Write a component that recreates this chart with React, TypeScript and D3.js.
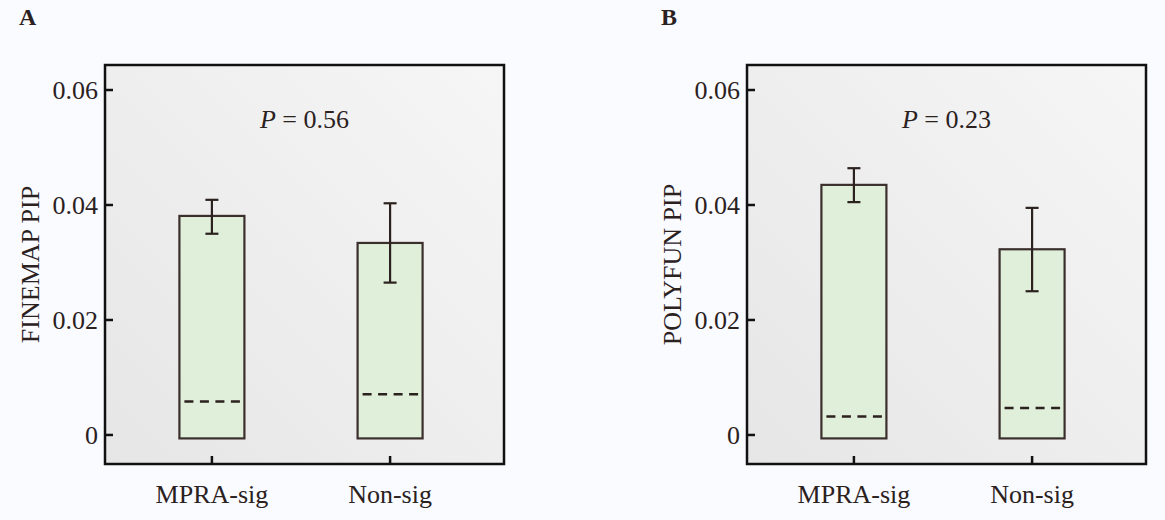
import * as d3 from "d3"

const categories = ["MPRA-sig", "Non-sig"]

const finemapMean = [0.0381, 0.0334]
const finemapLower = [0.035, 0.0265]
const finemapUpper = [0.0409, 0.0403]
const finemapMedian = [0.0058, 0.0071]

const polyfunMean = [0.0435, 0.0323]
const polyfunLower = [0.0405, 0.025]
const polyfunUpper = [0.0464, 0.0395]
const polyfunMedian = [0.0032, 0.0047]

const yTicks = [0, 0.02, 0.04, 0.06]
const yDomain = [-0.00505, 0.06435]
const barBase = -0.0006

const font = "'Liberation Serif', 'Times New Roman', serif"
const ink = "#2b211e"

interface PanelProps {
  letter: string
  yLabel: string
  pValue: string
  mean: number[]
  lower: number[]
  upper: number[]
  median: number[]
  offsetX: number
}

function Panel({ letter, yLabel, pValue, mean, lower, upper, median, offsetX }: PanelProps) {
  const left = 105
  const right = 504
  const top = 65
  const bottom = 464

  const x = d3.scalePoint<string>().domain(categories).range([left, 497]).padding(0.6)
  const y = d3.scaleLinear().domain(yDomain).range([bottom, top])
  const barW = 65
  const capW = 13

  return (
    <g transform={`translate(${offsetX},0)`} fontFamily={font} fill={ink}>
      <text x={19} y={25} fontSize={24} fontWeight="bold">{letter}</text>

      <rect x={left} y={top} width={right - left} height={bottom - top} fill="url(#bgGrad)" />

      {categories.map((c, i) => {
        const cx = x(c) || 0
        return (
          <g key={c}>
            <rect
              x={cx - barW / 2}
              y={y(mean[i])}
              width={barW}
              height={y(barBase) - y(mean[i])}
              fill="#e0efd9"
              stroke="#3a2f2c"
              strokeWidth={2.2}
            />
            <line
              x1={cx - barW / 2 + 5}
              x2={cx + barW / 2 - 4}
              y1={y(median[i])}
              y2={y(median[i])}
              stroke={ink}
              strokeWidth={2.5}
              strokeDasharray="9 6.5"
            />
            <line x1={cx} x2={cx} y1={y(upper[i])} y2={y(lower[i])} stroke={ink} strokeWidth={2.2} />
            <line x1={cx - capW / 2} x2={cx + capW / 2} y1={y(upper[i])} y2={y(upper[i])} stroke={ink} strokeWidth={2.2} />
            <line x1={cx - capW / 2} x2={cx + capW / 2} y1={y(lower[i])} y2={y(lower[i])} stroke={ink} strokeWidth={2.2} />
            <line x1={cx} x2={cx} y1={bottom} y2={bottom - 8} stroke="#111" strokeWidth={2.5} />
            <text x={cx} y={503} fontSize={26} textAnchor="middle">{c}</text>
          </g>
        )
      })}

      {yTicks.map((t) => (
        <g key={t}>
          <line x1={left} x2={left + 8} y1={y(t)} y2={y(t)} stroke="#111" strokeWidth={2.5} />
          <text x={left - 7} y={y(t)} dy="0.35em" fontSize={26} textAnchor="end">
            {t === 0 ? "0" : t.toFixed(2)}
          </text>
        </g>
      ))}

      <rect
        x={left}
        y={top}
        width={right - left}
        height={bottom - top}
        fill="none"
        stroke="#111"
        strokeWidth={2.5}
      />

      <text x={(left + right) / 2} y={128} fontSize={26} textAnchor="middle">
        <tspan fontStyle="italic">P</tspan> = {pValue}
      </text>

      <text
        transform={`translate(39,${(top + bottom) / 2}) rotate(-90)`}
        fontSize={26}
        textAnchor="middle"
      >
        {yLabel}
      </text>
    </g>
  )
}

export default function App() {
  return (
    <svg
      width={1165}
      height={520}
      style={{ position: "absolute", left: 0, top: 0, background: "#f9fbfe" }}
    >
      <defs>
        <linearGradient id="bgGrad" x1="1" y1="0" x2="0" y2="1">
          <stop offset="0%" stopColor="#f6f6f6" />
          <stop offset="100%" stopColor="#e6e6e7" />
        </linearGradient>
      </defs>
      <Panel
        letter="A"
        yLabel="FINEMAP PIP"
        pValue="0.56"
        mean={finemapMean}
        lower={finemapLower}
        upper={finemapUpper}
        median={finemapMedian}
        offsetX={0}
      />
      <Panel
        letter="B"
        yLabel="POLYFUN PIP"
        pValue="0.23"
        mean={polyfunMean}
        lower={polyfunLower}
        upper={polyfunUpper}
        median={polyfunMedian}
        offsetX={642}
      />
    </svg>
  )
}
